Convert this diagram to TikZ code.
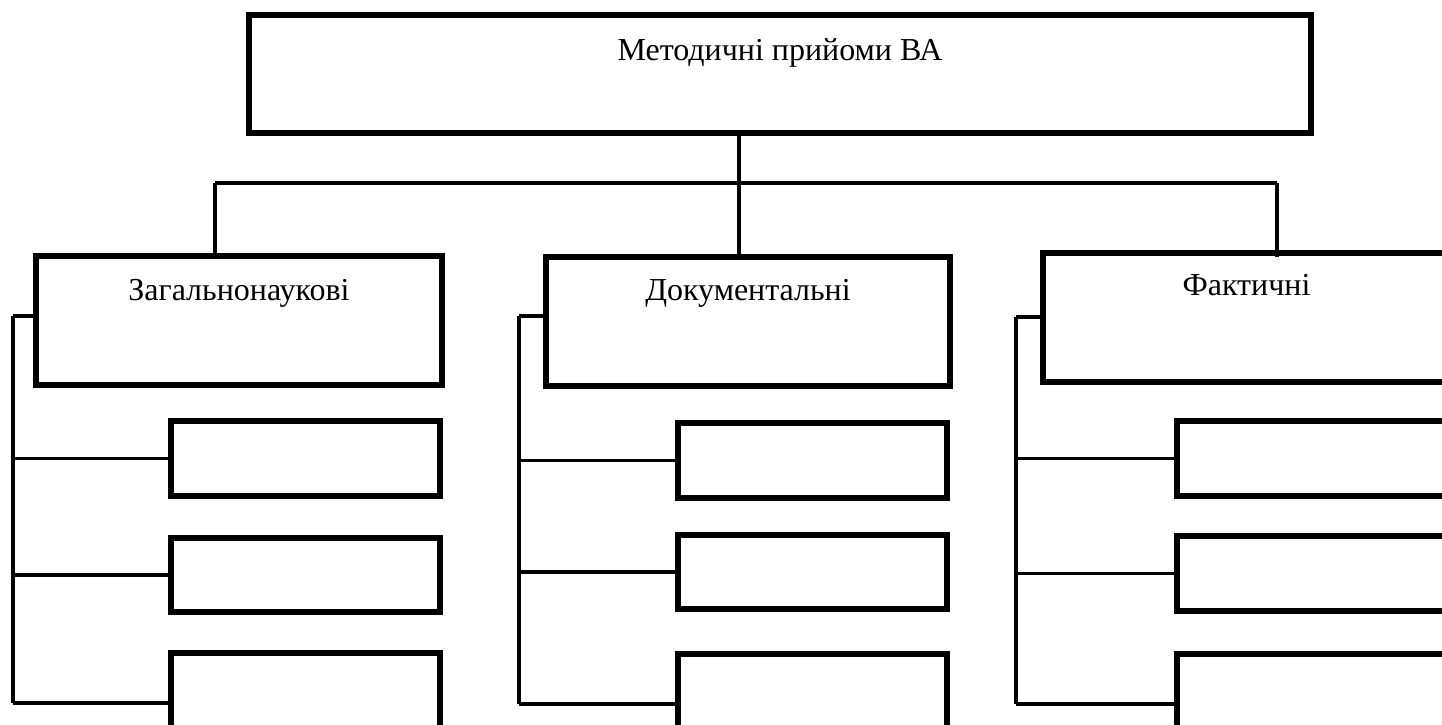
\documentclass[tikz,border=0pt]{standalone}
\usepackage{fontspec}
\setmainfont{Liberation Serif}
\begin{document}
\begin{tikzpicture}[x=1pt,y=-1pt,
    headbox/.style={shape=rectangle,draw=black,line width=6pt,inner sep=0pt,anchor=base,font=\fontsize{32}{38}\selectfont},
    childbox/.style={shape=rectangle,draw=black,line width=6pt,inner sep=0pt,minimum width=269pt},
    link/.style={draw=black,line width=3.3pt}]
    \useasboundingbox (0,0) rectangle (1442,725);
    \clip (0,0) rectangle (1442,725);

            \node[headbox,minimum width=1062pt,text height=45pt,text depth=73pt] (top) at (780,60) {Методичні прийоми ВА};

            \node[headbox,minimum width=406pt,text height=44pt,text depth=85pt] (gen) at (239,300) {Загальнонаукові};
            \node[headbox,minimum width=404pt,text height=43pt,text depth=86pt] (doc) at (748,300) {Документальні};
            \node[headbox,minimum width=407pt,text height=42pt,text depth=87pt] (fact) at (1246.5,295) {Фактичні};

            \node[childbox,minimum height=75pt] (gen1) at (305.5,458.5) {};
            \node[childbox,minimum height=74pt] (gen2) at (305.5,575) {};
            \node[childbox,minimum height=100pt] (gen3) at (305.5,703) {};
            \node[childbox,minimum height=75pt] (doc1) at (812.5,460.5) {};
            \node[childbox,minimum height=74pt] (doc2) at (812.5,572) {};
            \node[childbox,minimum height=100pt] (doc3) at (812.5,704) {};
            \node[childbox,minimum height=75pt] (fact1) at (1311.5,458.5) {};
            \node[childbox,minimum height=75pt] (fact2) at (1311.5,573.5) {};
            \node[childbox,minimum height=100pt] (fact3) at (1311.5,704) {};

            \coordinate (trunk) at (739,133);
            \coordinate (busL) at (215,183);
            \coordinate (busR) at (1277,183);
            \coordinate (genbus) at (13,316);
            \coordinate (docbus) at (519,316);
            \coordinate (factbus) at (1016,317);

            \path[link] (trunk) -- (trunk |- doc.north);
            \path[link] (busL) -- (busR);
            \path[link] (busL) -- (busL |- gen.north);
            \path[link] (busR) -- ([yshift=-7pt]busR |- fact.north);

            \path[link] (genbus) -- (genbus -| gen.west);
            \path[link] (genbus) -- (genbus |- gen3.west);
            \path[link] (gen1.west) -- (gen1.west -| genbus);
            \path[link] (gen2.west) -- (gen2.west -| genbus);
            \path[link] (gen3.west) -- (gen3.west -| genbus);

            \path[link] (docbus) -- (docbus -| doc.west);
            \path[link] (docbus) -- (docbus |- doc3.west);
            \path[link] (doc1.west) -- (doc1.west -| docbus);
            \path[link] (doc2.west) -- (doc2.west -| docbus);
            \path[link] (doc3.west) -- (doc3.west -| docbus);

            \path[link] (factbus) -- (factbus -| fact.west);
            \path[link] (factbus) -- (factbus |- fact3.west);
            \path[link] (fact1.west) -- (fact1.west -| factbus);
            \path[link] (fact2.west) -- (fact2.west -| factbus);
            \path[link] (fact3.west) -- (fact3.west -| factbus);
        \end{tikzpicture}
\end{document}
